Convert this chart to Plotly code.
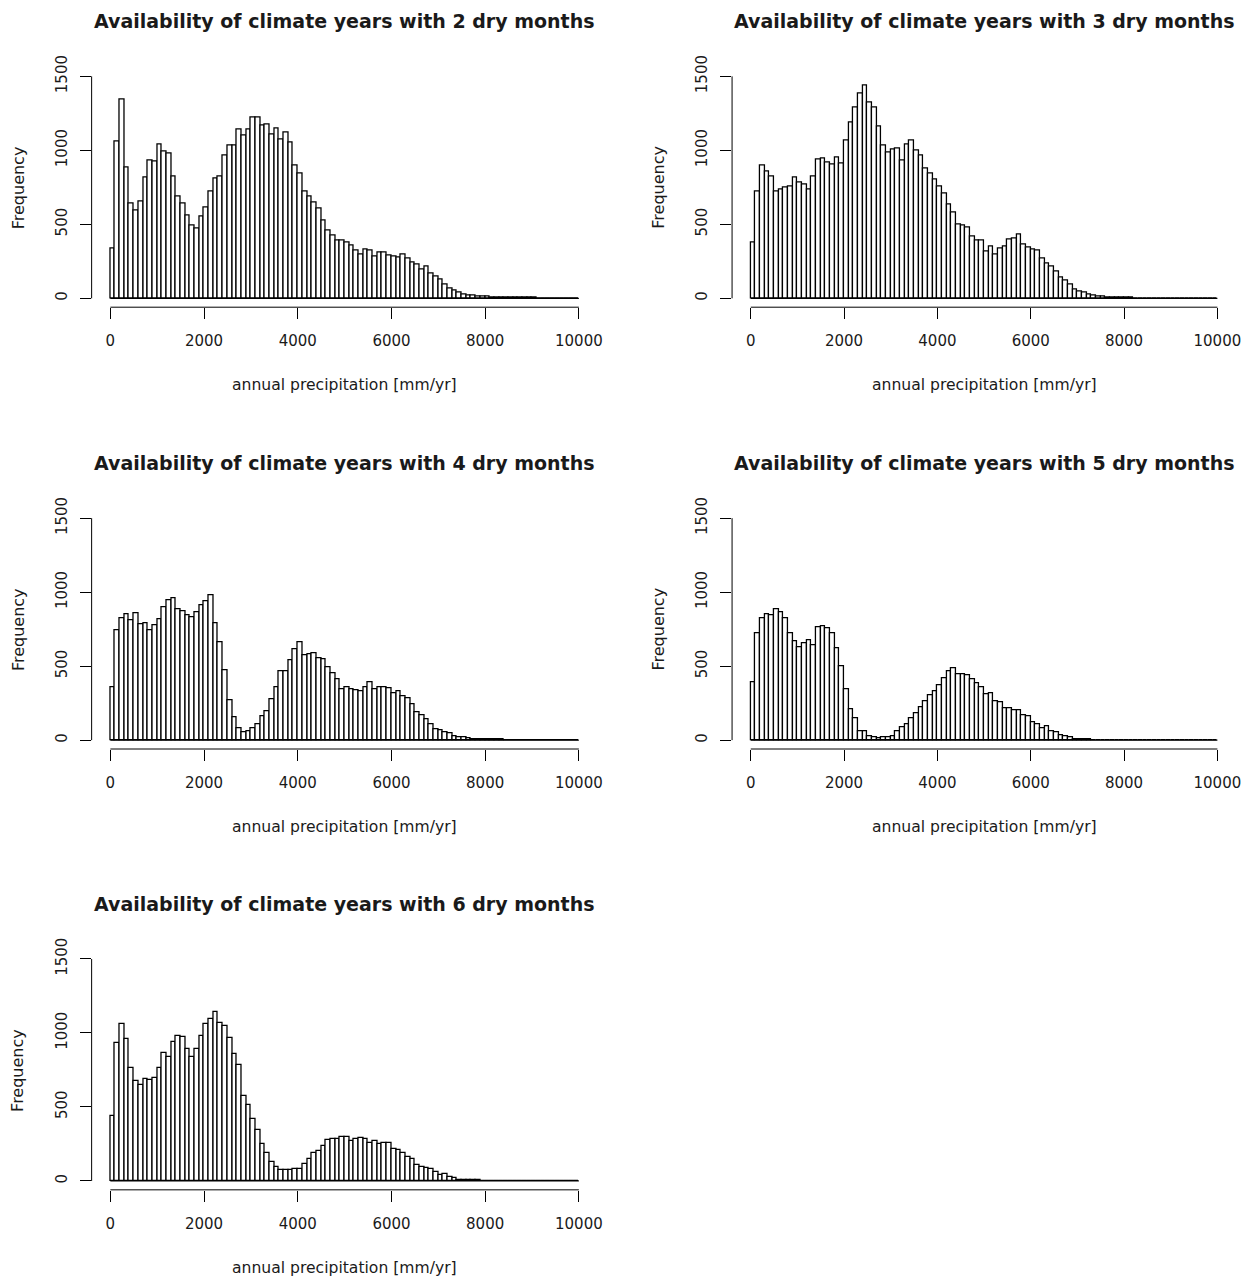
import numpy as np
import plotly.graph_objects as go

# ---------------- data ----------------
bin_edges = np.arange(0, 10001, 100)
bin_centers = (bin_edges[:-1] + bin_edges[1:]) / 2
x_tick_vals = [0, 2000, 4000, 6000, 8000, 10000]
y_tick_vals = [0, 500, 1000, 1500]
dry_months = [2, 3, 4, 5, 6]

freq_2 = [337, 1057, 1343, 885, 644, 595, 655, 814, 934, 925,
          1041, 992, 979, 822, 691, 644, 557, 492, 472, 554,
          612, 724, 811, 822, 963, 1033, 1033, 1142, 1102, 1142,
          1220, 1220, 1171, 1176, 1104, 1149, 1075, 1124, 1053, 900,
          845, 724, 688, 650, 606, 523, 460, 427, 393, 393,
          375, 360, 326, 293, 331, 326, 282, 308, 313, 288,
          286, 277, 293, 270, 241, 226, 192, 215, 170, 148,
          125, 92, 69, 54, 40, 29, 22, 20, 13, 12,
          10, 8, 7, 6, 5, 5, 4, 4, 3, 3,
          3, 2, 2, 2, 2, 1, 1, 1, 1, 1]

freq_3 = [378, 724, 896, 856, 822, 722, 733, 751, 755, 814,
          785, 767, 735, 822, 941, 948, 919, 903, 952, 914,
          1068, 1191, 1292, 1383, 1439, 1321, 1292, 1158, 1035, 986,
          1008, 1012, 934, 1037, 1064, 997, 963, 878, 845, 802,
          755, 706, 635, 579, 501, 494, 476, 416, 393, 393,
          315, 353, 293, 337, 349, 398, 405, 431, 367, 342,
          333, 322, 270, 237, 215, 181, 143, 118, 92, 63,
          49, 40, 27, 18, 13, 11, 8, 6, 5, 4,
          3, 3, 2, 2, 2, 1, 1, 1, 1, 1,
          1, 1, 0, 0, 0, 0, 0, 0, 0, 0]

freq_4 = [358, 741, 822, 849, 808, 860, 786, 793, 743, 775,
          815, 901, 944, 957, 883, 872, 842, 827, 867, 912,
          939, 980, 788, 664, 475, 268, 155, 83, 54, 61,
          83, 110, 158, 196, 275, 358, 462, 466, 540, 613,
          658, 574, 579, 590, 556, 545, 493, 455, 410, 342,
          360, 342, 336, 331, 358, 394, 342, 354, 354, 349,
          320, 327, 297, 286, 241, 185, 169, 140, 110, 72,
          68, 54, 43, 27, 20, 16, 11, 9, 7, 6,
          5, 4, 3, 3, 2, 2, 2, 1, 1, 1,
          1, 1, 1, 0, 0, 0, 0, 0, 0, 0]

freq_5 = [394, 721, 826, 853, 845, 883, 865, 822, 721, 669,
          628, 653, 676, 642, 763, 770, 759, 721, 624, 500,
          342, 209, 146, 61, 61, 27, 16, 11, 16, 20,
          27, 60, 85, 110, 145, 180, 225, 265, 300, 330,
          370, 420, 462, 484, 444, 444, 439, 410, 381, 354,
          313, 320, 263, 259, 212, 218, 200, 200, 167, 158,
          122, 106, 83, 95, 61, 50, 34, 27, 16, 9,
          6, 4, 3, 2, 2, 1, 1, 1, 1, 1,
          1, 1, 0, 0, 0, 0, 0, 0, 0, 0,
          0, 0, 0, 0, 0, 0, 0, 0, 0, 0]

freq_6 = [435, 930, 1063, 957, 761, 676, 646, 687, 680, 698,
          766, 867, 838, 935, 980, 973, 894, 838, 894, 980,
          1063, 1092, 1142, 1070, 1047, 968, 856, 781, 574, 511,
          417, 345, 248, 185, 128, 95, 72, 72, 72, 79,
          79, 113, 146, 191, 203, 236, 275, 282, 282, 297,
          293, 270, 282, 288, 282, 259, 270, 248, 259, 259,
          214, 207, 191, 158, 146, 106, 95, 90, 79, 63,
          41, 45, 27, 16, 9, 6, 5, 4, 3, 2,
          2, 1, 1, 1, 1, 0, 0, 0, 0, 0,
          0, 0, 0, 0, 0, 0, 0, 0, 0, 0]

all_freqs = [freq_2, freq_3, freq_4, freq_5, freq_6]
title_fmt = "Availability of climate years with {} dry months"
x_label = "annual precipitation [mm/yr]"
y_label = "Frequency"

# ---------------- layout ----------------
W, H = 1257, 1278
FONT = "DejaVu Sans, Liberation Sans, Arial, sans-serif"
TXT = "#1a1a1a"
# plot regions in pixels: left, right, top, bottom
regions = [(92, 600, 56, 298), (735, 1241, 56, 298),
           (92, 600, 502, 744), (735, 1241, 502, 744),
           (92, 600, 947, 1189)]

def px_x(p):
    return p / W

def px_y(p):
    return 1 - p / H

fig = go.Figure()
layout = dict(width=W, height=H, margin=dict(l=0, r=0, t=0, b=0),
              paper_bgcolor="white", plot_bgcolor="white",
              showlegend=False, bargap=0,
              font=dict(family=FONT, color=TXT))
shapes = []
annotations = []

for i, (dm, freq, (l, r, t, b)) in enumerate(zip(dry_months, all_freqs, regions)):
    n = i + 1
    xa = "x" if n == 1 else f"x{n}"
    ya = "y" if n == 1 else f"y{n}"
    fig.add_trace(go.Bar(x=bin_centers, y=freq, width=100,
                         marker=dict(color="white", line=dict(color="black", width=1.3)),
                         xaxis=xa, yaxis=ya, hoverinfo="x+y"))
    layout["xaxis" if n == 1 else f"xaxis{n}"] = dict(
        domain=[px_x(l), px_x(r)], anchor=ya, range=[-400, 10400],
        tickmode="array", tickvals=x_tick_vals, ticktext=[str(v) for v in x_tick_vals],
        ticks="outside", ticklen=11, tickwidth=1, tickcolor="black",
        showgrid=False, zeroline=False, showline=False,
        tickfont=dict(size=15, family=FONT, color=TXT), ticklabelstandoff=9,
        fixedrange=True)
    layout["yaxis" if n == 1 else f"yaxis{n}"] = dict(
        domain=[px_y(b), px_y(t)], anchor=xa, range=[-60, 1560],
        tickmode="array", tickvals=y_tick_vals, ticktext=[str(v) for v in y_tick_vals],
        ticks="outside", ticklen=11, tickwidth=1, tickcolor="black", tickangle=-90,
        showgrid=False, zeroline=False, showline=False,
        tickfont=dict(size=15, family=FONT, color=TXT), ticklabelstandoff=7,
        fixedrange=True)
    xref_d = f"{xa} domain"
    yref_d = f"{ya} domain"
    # x axis line from first to last tick
    shapes.append(dict(type="line", xref=xa, yref=yref_d,
                       x0=x_tick_vals[0], x1=x_tick_vals[-1], y0=0, y1=0,
                       line=dict(color="black", width=1)))
    # y axis line from first to last tick
    shapes.append(dict(type="line", xref=xref_d, yref=ya,
                       x0=0, x1=0, y0=y_tick_vals[0], y1=y_tick_vals[-1],
                       line=dict(color="black", width=1)))
    # baseline of zero-height bins
    shapes.append(dict(type="line", xref=xa, yref=ya,
                       x0=float(bin_edges[0]), x1=float(bin_edges[-1]), y0=0, y1=0,
                       line=dict(color="black", width=1.3), layer="below"))
    cx = (l + r) / 2
    annotations.append(dict(text="<b>" + title_fmt.format(dm) + "</b>",
                            x=px_x(cx), y=px_y(t - 47), xref="paper", yref="paper",
                            xanchor="center", yanchor="middle", showarrow=False,
                            font=dict(size=19, family=FONT, color=TXT)))
    annotations.append(dict(text=x_label, x=px_x(cx), y=px_y(b + 79),
                            xref="paper", yref="paper", xanchor="center", yanchor="middle",
                            showarrow=False, font=dict(size=15.6, family=FONT, color=TXT)))
    annotations.append(dict(text=y_label, x=px_x(l - 74), y=px_y((t + b) / 2),
                            xref="paper", yref="paper", xanchor="center", yanchor="middle",
                            textangle=-90, showarrow=False,
                            font=dict(size=16, family=FONT, color=TXT)))

layout["shapes"] = shapes
layout["annotations"] = annotations
fig.update_layout(**layout)
fig.write_html("out.html")
